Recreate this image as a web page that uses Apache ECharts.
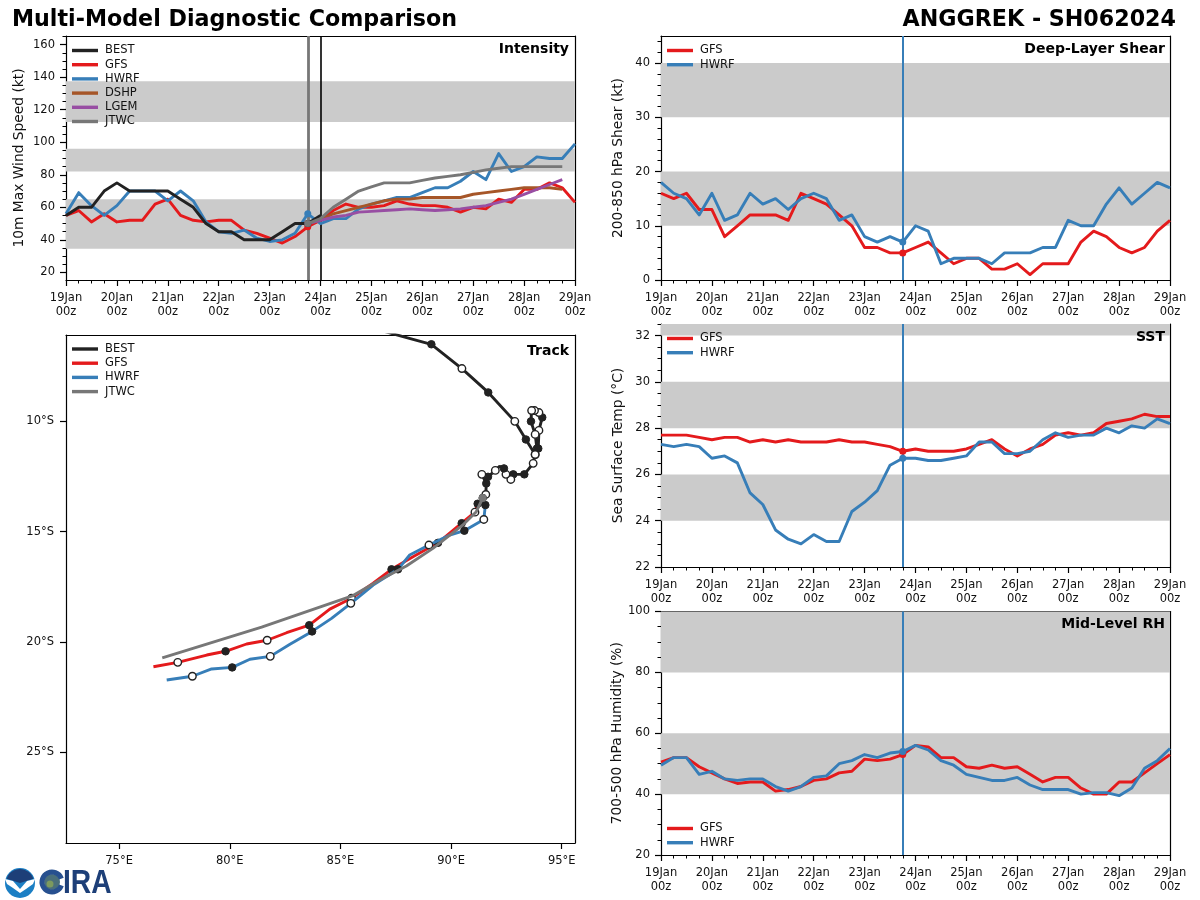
<!DOCTYPE html>
<html><head><meta charset="utf-8">
<style>html,body{margin:0;padding:0;background:#fff}#c{width:1200px;height:900px}</style>
<script src="https://cdn.jsdelivr.net/npm/echarts@6/dist/echarts.min.js"></script>
</head><body><div id="c"></div>
<script>
const timeLabels=["19Jan\n00z","20Jan\n00z","21Jan\n00z","22Jan\n00z","23Jan\n00z","24Jan\n00z","25Jan\n00z","26Jan\n00z","27Jan\n00z","28Jan\n00z","29Jan\n00z"];
const analysisIndex=19;
// Intensity (kt), 6-hourly from 19Jan 00z
const intBest=[55,60,60,70,75,70,70,70,70,65,60,50,45,45,40,40,40,45,50,50,55];
const intGfs=[55,58,51,56,51,52,52,62,65,55,52,51,52,52,46,44,41,38,42,48,52,58,62,60,60,61,64,62,61,61,60,57,60,59,65,63,71,71,75,72,63];
const intHwrf=[56,69,61,55,61,70,70,70,64,70,64,51,45,44,46,41,39,40,44,56,50,53,53,59,62,64,66,66,69,72,72,76,82,77,93,82,85,91,90,90,99];
const intDshp=[50,52,56,58,60,62,64,65,65,66,66,66,66,68,69,70,71,72,72,72,71];
const intLgem=[50,52,54,55,57,57.5,58,58.5,59,58.5,58,58.5,59,60,61,63,65,68,71,74,77];
const intJtwc=[50,53,60,65,70,72.5,75,75,75,76.5,78,79,80,81.5,83,84,85,85,85,85,85];
// Shear (kt)
const shrGfs=[16,15,16,13,13,8,10,12,12,12,11,16,15,14,12,10,6,6,5,5,6,7,5,3,4,4,2,2,3,1,3,3,3,7,9,8,6,5,6,9,11];
const shrHwrf=[18,16,15,12,16,11,12,16,14,15,13,15,16,15,11,12,8,7,8,7,10,9,3,4,4,4,3,5,5,5,6,6,11,10,10,14,17,14,16,18,17];
// SST (C)
const sstGfs=[27.7,27.7,27.7,27.6,27.5,27.6,27.6,27.4,27.5,27.4,27.5,27.4,27.4,27.4,27.5,27.4,27.4,27.3,27.2,27.0,27.1,27.0,27.0,27.0,27.1,27.3,27.5,27.1,26.8,27.1,27.3,27.7,27.8,27.7,27.8,28.2,28.3,28.4,28.6,28.5,28.5];
const sstHwrf=[27.3,27.2,27.3,27.2,26.7,26.8,26.5,25.2,24.7,23.6,23.2,23.0,23.4,23.1,23.1,24.4,24.8,25.3,26.4,26.7,26.7,26.6,26.6,26.7,26.8,27.4,27.4,26.9,26.9,27.0,27.5,27.8,27.6,27.7,27.7,28.0,27.8,28.1,28.0,28.4,28.2];
// Mid-level RH (%)
const rhGfs=[50.5,52,52,49,47,45,43.5,44,44,41,41.5,42.5,44.5,45,47,47.5,51.5,51,51.5,53,56,55.5,52,52,49,48.5,49.5,48.5,49,46.5,44,45.5,45.5,42,40,40,44,44,47,50,53];
const rhHwrf=[49.5,52,52,46.5,47.5,45,44.5,45,45,42.5,41,42.5,45.5,46,50,51,53,52,53.5,54,56,54.5,51,49.5,46.5,45.5,44.5,44.5,45.5,43,41.5,41.5,41.5,40,40.5,40.5,39.5,42,48.5,51,55];
// Track: [lon E, lat S, marker] marker 1 filled, 0 hollow, -1 none
const trkBest=[[86.78,5.88,-1],[87.91,6.20,-1],[89.11,6.52,1],[90.49,7.62,0],[91.68,8.70,1],[92.88,10.01,0],[93.38,10.83,1],[93.80,11.51,0],[93.94,11.24,1],[93.97,10.42,0],[94.12,9.83,1],[93.97,9.61,0],[93.77,9.52,0],[93.64,9.52,0],[93.61,10.01,1],[93.80,10.60,0],[93.88,11.24,1],[93.80,11.51,0],[93.71,11.91,0],[93.31,12.41,1],[92.81,12.41,1],[92.70,12.64,0],[92.48,12.41,0],[92.39,12.14,1],[92.19,12.04,-1],[92.0,12.23,0],[91.67,12.52,1],[91.39,12.41,0],[91.59,12.82,1],[91.57,13.32,0],[91.43,13.48,1]];
const trkGfs=[[91.43,13.48,-1],[91.20,13.74,1],[91.08,14.12,0],[90.48,14.62,1],[89.41,15.51,1],[88.28,16.14,-1],[87.31,16.71,1],[86.48,17.34,-1],[85.50,18.02,0],[84.52,18.51,-1],[83.59,19.24,1],[82.57,19.58,-1],[81.69,19.92,0],[80.76,20.09,-1],[79.81,20.42,1],[78.96,20.59,-1],[77.65,20.92,0],[76.55,21.12,-1]];
const trkHwrf=[[91.43,13.48,-1],[91.55,13.80,1],[91.48,14.45,0],[90.60,14.96,1],[89.94,15.16,-1],[89.0,15.61,0],[88.13,16.06,-1],[87.60,16.71,1],[86.48,17.42,-1],[85.47,18.25,0],[84.60,18.93,-1],[83.72,19.52,1],[82.72,20.10,-1],[81.83,20.65,0],[80.91,20.78,-1],[80.11,21.15,1],[79.18,21.22,-1],[78.31,21.55,0],[77.15,21.72,-1]];
const trkJtwc=[[91.43,13.48,1],[91.14,14.10,-1],[90.52,14.71,-1],[89.18,15.76,-1],[87.98,16.56,-1],[86.78,17.19,-1],[85.57,17.90,-1],[81.44,19.33,-1],[76.95,20.72,-1]];
const lonTicks=[75,80,85,90,95];
const latTicks=[-10,-15,-20,-25];

const C={BEST:'#222222',GFS:'#e41a1c',HWRF:'#377eb8',DSHP:'#a65628',LGEM:'#984ea3',JTWC:'#777777'};
const FONT='DejaVu Sans';
const range=(a,b,s)=>{const r=[];for(let v=a;v<=b+1e-9;v+=s)r.push(+v.toFixed(3));return r;};
const panels=[
 {k:'int',left:66,top:36,w:509,h:244,min:15.3,max:165.3,major:range(20,160,20),minor:range(20,165,5),name:'10m Max Wind Speed (kt)',title:'Intensity',bands:[[34.5,65],[82,96],[112.5,137.5]],nameGap:40,tr:6},
 {k:'trk',left:66,top:335,w:509,h:508},
 {k:'shr',left:661,top:36,w:509,h:244,min:0,max:45,major:range(0,40,10),minor:range(0,44,2),name:'200-850 hPa Shear (kt)',title:'Deep-Layer Shear',bands:[[10,20],[30,40]],nameGap:36,tr:5},
 {k:'sst',left:661,top:324,w:509,h:243,min:22,max:32.5,major:range(22,32,2),minor:range(22,32.5,.5),name:'Sea Surface Temp (°C)',title:'SST',bands:[[24,26],[28,30],[32,32.5]],nameGap:36,tr:5},
 {k:'rh',left:661,top:611.5,w:509,h:243.5,min:20,max:100,major:range(20,100,20),minor:range(20,100,5),name:'700-500 hPa Humidity (%)',title:'Mid-Level RH',bands:[[40,60],[80,100]],nameGap:36,tr:5}
];
const grid=[],xAxis=[],yAxis=[],series=[],legend=[],title=[];
const lineS=(name,gi,data,extra)=>Object.assign({type:'line',name,xAxisIndex:gi*2,yAxisIndex:gi*3,data,
  lineStyle:{color:C[name],width:2.9,join:'round',cap:'butt'},itemStyle:{color:C[name]},color:C[name],
  showSymbol:true,showAllSymbol:true,symbol:'circle',symbolSize:(v,p)=>(v[0]===analysisIndex?7:0),
  animation:false,silent:true,z:5,clip:true},extra||{});
const idx=(arr,start)=>arr.map((v,i)=>[i+(start||0),v]);
const mkLegend=(names,left,top)=>({show:true,orient:'vertical',left,top,data:names,icon:'rect',itemWidth:26,itemHeight:3.4,itemGap:2.2,
  textStyle:{fontFamily:FONT,fontSize:11.5,color:'#111',padding:[0,0,0,2],lineHeight:12},selectedMode:false,padding:0});
panels.forEach((p,gi)=>{
  grid.push({left:p.left,top:p.top,width:p.w,height:p.h,containLabel:false,show:false});
  title.push({text:p.k==='trk'?'Track':p.title,right:p.k==='trk'?1200-569:1200-p.left-p.w+p.tr,top:p.k==='trk'?344.5:(p.k==='int'||p.k==='shr')?42:p.k==='sst'?330.5:617,
    textStyle:{fontFamily:FONT,fontSize:14,fontWeight:'bold',color:'#000'},padding:0});
  const tickLine={lineStyle:{color:'#000',width:1.2}};
  if(p.k==='trk'){
    xAxis.push({gridIndex:gi,type:'value',min:72.6,max:95.6,position:'bottom',splitLine:{show:false},
      axisLine:{show:true,onZero:false,...tickLine},axisTick:{show:true,length:6,customValues:lonTicks,...tickLine},
      axisLabel:{show:true,customValues:lonTicks,formatter:v=>v+'°E',fontFamily:FONT,fontSize:11.5,color:'#111',margin:12}});
    xAxis.push({gridIndex:gi,type:'value',min:72.6,max:95.6,position:'top',splitLine:{show:false},axisLine:{show:true,onZero:false,...tickLine},axisTick:{show:false},axisLabel:{show:false}});
    yAxis.push({gridIndex:gi,type:'value',min:-29.1,max:-6.1,position:'left',splitLine:{show:false},
      axisLine:{show:true,onZero:false,...tickLine},axisTick:{show:true,length:6,customValues:latTicks,...tickLine},
      axisLabel:{show:true,customValues:latTicks,formatter:v=>(-v)+'°S',fontFamily:FONT,fontSize:11.5,color:'#111',margin:12,padding:[5,0,0,0]}});
    yAxis.push({gridIndex:gi,type:'value',min:-29.1,max:-6.1,position:'left',show:false});
    yAxis.push({gridIndex:gi,type:'value',min:-29.1,max:-6.1,position:'right',splitLine:{show:false},axisLine:{show:true,onZero:false,...tickLine},axisTick:{show:false},axisLabel:{show:false}});
    const tr=(name,arr,lw,extra)=>Object.assign({type:'line',name,xAxisIndex:gi*2,yAxisIndex:gi*3,
      data:arr.map(d=>({value:[d[0],-d[1]],symbolSize:d[2]<0?0:7.5,itemStyle:d[2]===1?{color:'#222',borderColor:'#222',borderWidth:1}:{color:'#fff',borderColor:'#222',borderWidth:1.4}})),
      symbol:'circle',showSymbol:true,showAllSymbol:true,color:C[name],lineStyle:{color:C[name],width:lw},animation:false,silent:true,clip:true,z:5},extra||{});
    series.push(tr('GFS',trkGfs,2.9,{z:5}),tr('HWRF',trkHwrf,2.9,{z:6}));
    series.push(tr('BEST',trkBest,2.9,{z:7}));
    const jt=tr('JTWC',trkJtwc,2.9,{z:8});
    jt.data=trkJtwc.map((d,i)=>({value:[d[0],-d[1]],symbolSize:i===0?8:0,itemStyle:{color:C.JTWC}}));
    series.push(jt);
    legend.push(mkLegend(['BEST','GFS','HWRF','JTWC'],72,343));
    return;
  }
  xAxis.push({gridIndex:gi,type:'value',min:0,max:40,interval:4,position:'bottom',splitLine:{show:false},
    axisLine:{show:true,onZero:false,...tickLine},axisTick:{show:true,length:6,...tickLine},
    minorTick:{show:true,splitNumber:4,length:3.5,lineStyle:{color:'#000',width:1}},minorSplitLine:{show:false},
    axisLabel:{show:true,showMinLabel:true,showMaxLabel:true,hideOverlap:false,formatter:v=>timeLabels[Math.round(v/4)],fontFamily:FONT,fontSize:11.5,lineHeight:14.2,color:'#111',margin:11}});
  xAxis.push({gridIndex:gi,type:'value',min:0,max:40,position:'top',splitLine:{show:false},axisLine:{show:true,onZero:false,...tickLine},axisTick:{show:false},axisLabel:{show:false}});
  yAxis.push({gridIndex:gi,type:'value',min:p.min,max:p.max,position:'left',splitLine:{show:false},
    name:p.name,nameLocation:'middle',nameGap:p.nameGap,nameTextStyle:{fontFamily:FONT,fontSize:13.8,color:'#111'},
    axisLine:{show:true,onZero:false,...tickLine},axisTick:{show:true,length:6,customValues:p.major,...tickLine},
    axisLabel:{show:true,customValues:p.major,fontFamily:FONT,fontSize:11.5,color:'#111',margin:11,padding:[5,0,0,0]}});
  yAxis.push({gridIndex:gi,type:'value',min:p.min,max:p.max,position:'left',splitLine:{show:false},
    axisLine:{show:false,onZero:false},axisTick:{show:true,length:3.5,customValues:p.minor,lineStyle:{color:'#000',width:1}},axisLabel:{show:false}});
  yAxis.push({gridIndex:gi,type:'value',min:p.min,max:p.max,position:'right',splitLine:{show:false},axisLine:{show:true,onZero:false,...tickLine},axisTick:{show:false},axisLabel:{show:false}});
  // gray bands on a data-less helper series
  series.push({type:'line',name:'bands'+gi,xAxisIndex:gi*2,yAxisIndex:gi*3,data:[],z:1,silent:true,animation:false,
    markArea:{silent:true,animation:false,itemStyle:{color:'#cbcbcb'},data:p.bands.map(b=>[{yAxis:b[0]},{yAxis:b[1]}])}});
  const vline=(x,color,w,z)=>({type:'line',name:'v'+gi+x,xAxisIndex:gi*2,yAxisIndex:gi*3,data:[],z,silent:true,animation:false,
    markLine:{silent:true,animation:false,symbol:'none',label:{show:false},lineStyle:{color,width:w,type:'solid'},data:[{xAxis:x}]}});
  if(p.k==='int'){
    series.push(lineS('GFS',gi,idx(intGfs)),lineS('HWRF',gi,idx(intHwrf)),lineS('DSHP',gi,idx(intDshp,19)),lineS('LGEM',gi,idx(intLgem,19)),lineS('BEST',gi,idx(intBest)),lineS('JTWC',gi,idx(intJtwc,19),{z:6}));
    series.push(vline(19,'#777777',2.8,7),vline(20,'#000000',1.6,7));
    legend.push(mkLegend(['BEST','GFS','HWRF','DSHP','LGEM','JTWC'],72,44.5));
  } else {
    const g={shr:shrGfs,sst:sstGfs,rh:rhGfs}[p.k],h={shr:shrHwrf,sst:sstHwrf,rh:rhHwrf}[p.k];
    series.push(lineS('GFS',gi,idx(g)),lineS('HWRF',gi,idx(h)));
    series.push(vline(19,C.HWRF,2,7));
    legend.push(mkLegend(['GFS','HWRF'],667,p.k==='shr'?44.5:p.k==='sst'?332.5:822.5));
  }
});
const graphic=[
 {type:'text',left:12,top:9,style:{text:'Multi-Model Diagnostic Comparison',fontFamily:FONT,fontSize:22.2,fontWeight:'bold',fill:'#000'}},
 {type:'text',right:24,top:9,style:{text:'ANGGREK - SH062024',fontFamily:FONT,fontSize:22.2,fontWeight:'bold',fill:'#000',textAlign:'right'}},
 // NOAA-style roundel
 {type:'circle',shape:{cx:20,cy:883,r:15},style:{fill:'#1b7fc4'}},
 {type:'sector',shape:{cx:20,cy:883,r:14,startAngle:Math.PI*1.1,endAngle:Math.PI*1.9},style:{fill:'#1d3f78'}},
 {type:'polygon',shape:{points:[[5,879],[13,881],[20,889],[27,881],[35,879],[33,884],[26,889],[20,893],[13,888],[7,884]]},style:{fill:'#ffffff'}},
 // CIRA globe and word
 {type:'circle',shape:{cx:52,cy:882,r:8},style:{fill:'#4a6f7a'}},
 {type:'circle',shape:{cx:50,cy:884,r:3.5},style:{fill:'#7c9a5e'}},
 {type:'sector',shape:{cx:52,cy:882,r:12.5,r0:7.5,startAngle:0.35,endAngle:Math.PI*2-0.35},style:{fill:'#27508f'}},
 {type:'text',x:63,y:866.5,scaleX:0.83,style:{text:'IRA',fontFamily:'Liberation Sans',fontSize:34,fontWeight:'bold',fill:'#1d3f78'}}
];
const chart=echarts.init(document.getElementById('c'),null,{renderer:'canvas',width:1200,height:900});
chart.setOption({animation:false,backgroundColor:'#fff',grid,xAxis,yAxis,series,legend,title,graphic});
</script></body></html>
